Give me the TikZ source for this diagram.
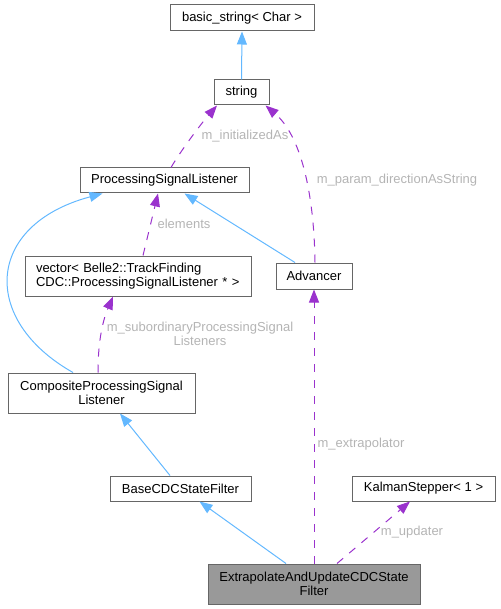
\documentclass[tikz,border=0pt]{standalone}
\usepackage{fontspec}
\setmainfont{Liberation Sans}
\usetikzlibrary{arrows.meta}
\definecolor{inh}{HTML}{63B8FF}
\definecolor{use}{HTML}{9A32CD}
\definecolor{lbl}{HTML}{B4B4B4}
\definecolor{brd}{HTML}{666666}
\definecolor{cur}{HTML}{999999}
\begin{document}
\begin{tikzpicture}[x=1pt,y=-1pt,
  cls/.style={draw=brd, line width=1pt, rectangle, inner sep=0pt,
    font=\fontsize{13}{14.5}\selectfont, align=center},
  inhedge/.style={draw=inh, line width=1pt, -{Triangle[length=13pt,width=10pt]}},
  useedge/.style={draw=use, line width=1pt, dash pattern=on 8pt off 8pt,
    -{Triangle[length=13pt,width=10pt]}},
  lab/.style={text=lbl, font=\fontsize{13}{14.5}\selectfont, inner sep=0pt, align=center}]
\useasboundingbox (0,0) rectangle (500,609);

\node[cls, minimum width=144pt, minimum height=26pt] (bs) at (242,18) {basic\_string< Char >};
\node[cls, minimum width=55pt, minimum height=25pt] (str) at (241.5,92.5) {string};
\node[cls, minimum width=169pt, minimum height=25pt] (psl) at (164.5,180.5) {ProcessingSignalListener};
\node[cls, minimum width=226pt, minimum height=40pt, text width=204pt, align=left] (vec) at (138,276)
  {vector< Belle2::TrackFinding\\CDC::ProcessingSignalListener * >};
\node[cls, minimum width=76pt, minimum height=26pt] (adv) at (314,276) {Advancer};
\node[cls, minimum width=187pt, minimum height=40pt] (comp) at (101.5,393) {CompositeProcessingSignal\\Listener};
\node[cls, minimum width=141pt, minimum height=25pt] (base) at (180.5,488.5) {BaseCDCStateFilter};
\node[cls, minimum width=143pt, minimum height=25pt] (kal) at (423.5,488.5) {KalmanStepper< 1 >};
\node[cls, fill=cur, minimum width=212pt, minimum height=40pt] (ext) at (314,584) {ExtrapolateAndUpdateCDCState\\Filter};

% inheritance
\draw[inhedge] (str.north) -- (bs.south);
\draw[inhedge] ([xshift=-19pt]adv.north) -- ([xshift=20pt]psl.south);
\draw[inhedge] ([xshift=-28.5pt]comp.north) .. controls (-20,320) and (-15,225) .. ([xshift=-62pt]psl.south);
\draw[inhedge] ([xshift=-10.5pt]base.north) -- ([xshift=18.5pt]comp.south);
\draw[inhedge] ([xshift=-28pt]ext.north) -- ([xshift=19pt]base.south);

% usage
\draw[useedge] ([xshift=6.5pt]psl.north) .. controls (180,152) and (200,125) .. ([xshift=-24.5pt]str.south);
\draw[useedge] ([xshift=1pt]adv.north) .. controls (314,190) and (300,135) .. ([xshift=24pt]str.south);
\draw[useedge] ([xshift=5pt]vec.north) -- ([xshift=-6.5pt]psl.south);
\draw[useedge] ([xshift=-3.5pt]comp.north) .. controls (98,340) and (103,320) .. ([xshift=-25pt]vec.south);
\draw[useedge] (ext.north) -- (adv.south);
\draw[useedge] ([xshift=23pt]ext.north) -- ([xshift=-13.5pt]kal.south);

% labels
\node[lab] (l1) at (245,136) {m\_initializedAs};
\node[lab] (l2) at (397,180) {m\_param\_directionAsString};
\node[lab] (l3) at (184,224) {elements};
\node[lab] (l4) at (200,334) {m\_subordinaryProcessingSignal\\Listeners};
\node[lab] (l5) at (361,444) {m\_extrapolator};
\node[lab] (l6) at (412,532) {m\_updater};
\end{tikzpicture}
\end{document}
